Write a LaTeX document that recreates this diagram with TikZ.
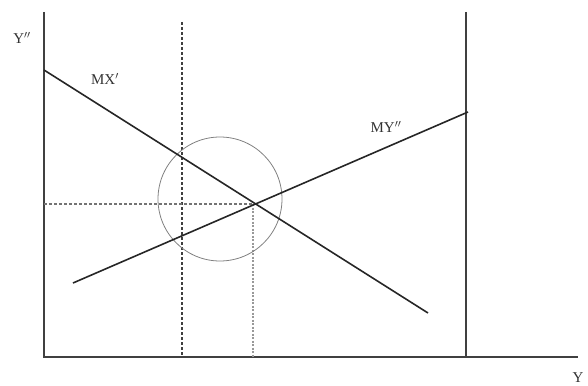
\documentclass[tikz,border=0pt]{standalone}
\usepackage{fontspec}
\setmainfont{Liberation Serif}
\begin{document}
\begin{tikzpicture}[x=1pt,y=-1pt,
  axis/.style={line width=1.1pt,draw=black!75},
  curve/.style={line width=1.6pt,draw=black!85},
  dashv/.style={line width=1.1pt,draw=black!75,dash pattern=on 3pt off 2pt},
  dotv/.style={line width=1.1pt,draw=black!40,dash pattern=on 2pt off 1.5pt},
  lbl/.style={font=\fontsize{15}{17}\selectfont,text=black!80,inner sep=0pt}]
\useasboundingbox (0,0) rectangle (588,385);
\coordinate (O) at (44,357);
\coordinate (Ytop) at (44,12);
\coordinate (Xend) at (578,357);
\coordinate (Rtop) at (466,12);
\coordinate (Rbot) at (466,357);
\coordinate (Dtop) at (182,22);
\coordinate (Dbot) at (182,357);
\coordinate (E) at (253,204);
\coordinate (Ebot) at (253,357);
\coordinate (Hl) at (44,204);
\coordinate (MXa) at (44,70);
\coordinate (MXb) at (428,313);
\coordinate (MYa) at (73,283);
\coordinate (MYb) at (468,112);
\coordinate (C) at (220,199);
\draw[axis] (Ytop) -- (O) -- (Xend);
\draw[axis] (Rtop) -- (Rbot);
\draw[dashv] (Dtop) -- (Dbot);
\draw[dotv] (E) -- (Ebot);
\draw[dashv,draw=black!55] (Hl) -- (E);
\draw[draw=black!50,line width=0.8pt] (C) circle[radius=62];
\draw[curve] (MXa) -- (MXb);
\draw[curve] (MYa) -- (MYb);
\node[lbl] (ly) at (22,38) {Y$^{\prime\prime}$};
\node[lbl] (lmx) at (105,79) {MX$^{\prime}$};
\node[lbl] (lmy) at (386,127) {MY$^{\prime\prime}$};
\node[lbl] (lx) at (578,378) {Y};
\end{tikzpicture}
\end{document}
